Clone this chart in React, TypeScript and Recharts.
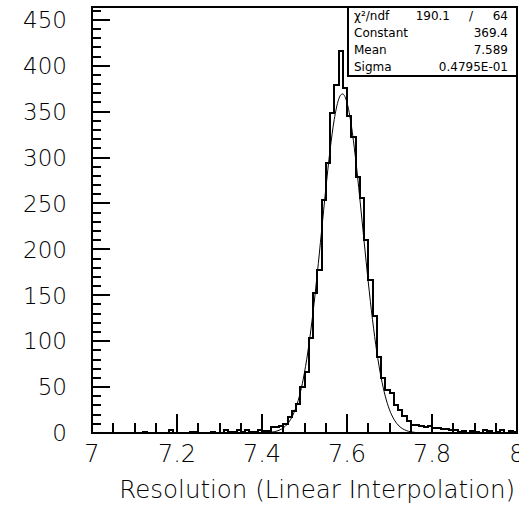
import React from 'react';
import { LineChart, Line, XAxis, YAxis, ReferenceArea } from 'recharts';

// Histogram: 100 bins of width 0.01 starting at 7.00
const binLow = 7.0;
const binWidth = 0.01;
const counts = [
  0, 0, 0, 0, 0, 0, 0, 0, 0, 0,
  0, 0, 1, 0, 0, 0, 0, 0, 3, 0,
  0, 0, 0, 1, 1, 0, 0, 0, 1, 0,
  0, 3, 1, 1, 3, 1, 3, 1, 1, 3,
  2, 2, 6, 6, 8, 10, 17, 24, 32, 50,
  66, 104, 152, 178, 254, 294, 349, 379, 416, 376,
  345, 322, 279, 256, 210, 167, 127, 83, 60, 47,
  44, 30, 25, 18, 13, 9, 9, 8, 6, 8,
  5, 5, 4, 4, 3, 3, 1, 2, 0, 2,
  1, 0, 3, 2, 0, 1, 3, 0, 2, 1,
];

// Gaussian fit curve, values read at sample positions
const fitX = [
  7.40, 7.41, 7.42, 7.43, 7.44, 7.45, 7.46, 7.47, 7.48, 7.49,
  7.50, 7.51, 7.52, 7.53, 7.54, 7.55, 7.56, 7.57, 7.58, 7.585,
  7.59, 7.595, 7.60, 7.61, 7.62, 7.63, 7.64, 7.65, 7.66, 7.67,
  7.68, 7.69, 7.70, 7.71, 7.72, 7.73, 7.74, 7.75, 7.76, 7.77, 7.78,
];
const fitY = [
  0.16, 0.35, 0.74, 1.51, 2.95, 5.5, 9.9, 17.0, 27.9, 43.8,
  66.0, 95.1, 131.2, 173.3, 219.2, 265.4, 307.7, 341.5, 362.9, 368.1,
  369.3, 366.5, 359.8, 335.6, 299.7, 256.3, 209.8, 164.5, 123.4, 88.7,
  61.0, 40.2, 25.3, 15.3, 8.8, 4.9, 2.6, 1.32, 0.64, 0.30, 0.13,
];

const xTicks = [
  7, 7.05, 7.1, 7.15, 7.2, 7.25, 7.3, 7.35, 7.4, 7.45, 7.5,
  7.55, 7.6, 7.65, 7.7, 7.75, 7.8, 7.85, 7.9, 7.95, 8,
];
const yTicks = [
  0, 10, 20, 30, 40, 50, 60, 70, 80, 90, 100, 110, 120, 130, 140, 150,
  160, 170, 180, 190, 200, 210, 220, 230, 240, 250, 260, 270, 280, 290,
  300, 310, 320, 330, 340, 350, 360, 370, 380, 390, 400, 410, 420, 430,
  440, 450, 460,
];

const xTitle = 'Resolution (Linear Interpolation)';
const statNames = ['χ²/ndf', 'Constant', 'Mean', 'Sigma'];
const statValues = ['64', '369.4', '7.589', '0.4795E-01'];
const chi2Value = '190.1';

const FONT = '"DejaVu Sans", sans-serif';

const XTick = (props: any) => {
  const { x, y, payload } = props;
  const v = payload.value as number;
  const major = Math.abs(v * 5 - Math.round(v * 5)) < 1e-6;
  return (
    <g>
      <line x1={x} y1={y} x2={x} y2={y - (major ? 19 : 10)} stroke="#000" strokeWidth={2} shapeRendering="crispEdges" />
      {major && (
        <text x={x} y={y + 29} textAnchor="middle" fontFamily={FONT} fontWeight={200} fontSize={24} fill="#000">
          {String(Number(v.toFixed(1)))}
        </text>
      )}
    </g>
  );
};

const YTick = (props: any) => {
  const { x, y, payload } = props;
  const v = payload.value as number;
  const major = v % 50 === 0;
  return (
    <g>
      <line x1={x} y1={y} x2={x + (major ? 18 : 9)} y2={y} stroke="#000" strokeWidth={2} shapeRendering="crispEdges" />
      {major && (
        <text x={x - 25} y={y} dy="0.36em" textAnchor="end" fontFamily={FONT} fontWeight={200} fontSize={23} fill="#000">
          {String(v)}
        </text>
      )}
    </g>
  );
};

export default function App() {
  const histData = counts.map((c, i) => ({ x: binLow + i * binWidth, y: c }));
  histData.push({ x: binLow + counts.length * binWidth, y: counts[counts.length - 1] });
  const fitData = fitX.map((x, i) => ({ x, y: fitY[i] }));

  return (
    <div style={{ position: 'absolute', left: 0, top: 0, width: 519, height: 505, overflow: 'hidden', background: '#fff' }}>
      <LineChart width={519} height={505} margin={{ top: 7, right: 2, bottom: 0, left: 0 }}>
        <XAxis
          type="number"
          dataKey="x"
          domain={[7, 8]}
          ticks={xTicks}
          interval={0}
          tickSize={0}
          tickMargin={0}
          height={72}
          allowDataOverflow
          axisLine={{ stroke: '#000', strokeWidth: 2, shapeRendering: 'crispEdges' }}
          tick={XTick}
        />
        <YAxis
          type="number"
          dataKey="y"
          domain={[0, 464]}
          ticks={yTicks}
          interval={0}
          tickSize={0}
          tickMargin={0}
          width={92}
          allowDataOverflow
          axisLine={{ stroke: '#000', strokeWidth: 2, shapeRendering: 'crispEdges' }}
          tick={YTick}
        />
        <ReferenceArea x1={7} x2={8} y1={0} y2={464} fill="none" fillOpacity={0} stroke="#000" strokeWidth={2} shapeRendering="crispEdges" ifOverflow="visible" />
        <Line data={fitData} dataKey="y" type="monotone" stroke="#000" strokeWidth={1} dot={false} activeDot={false} isAnimationActive={false} />
        <Line data={histData} dataKey="y" type="stepAfter" stroke="#000" strokeWidth={2} dot={false} activeDot={false} isAnimationActive={false} shapeRendering="crispEdges" />
        <g>
          <rect x={348} y={7} width={169} height={69} fill="#fff" stroke="#000" strokeWidth={2} shapeRendering="crispEdges" />
          {statNames.map((n, i) => (
            <text key={n} x={354} y={20 + i * 17} fontFamily={FONT} fontSize={12} fill="#000">{n}</text>
          ))}
          <text x={450} y={20} textAnchor="end" fontFamily={FONT} fontSize={12} fill="#000">{chi2Value}</text>
          <text x={471} y={20} textAnchor="middle" fontFamily={FONT} fontSize={12} fill="#000">/</text>
          {statValues.map((v, i) => (
            <text key={i} x={508} y={20 + i * 17} textAnchor="end" fontFamily={FONT} fontSize={12} fill="#000">{v}</text>
          ))}
          <text x={515} y={498} textAnchor="end" fontFamily={FONT} fontWeight={200} fontSize={24.5} fill="#000">{xTitle}</text>
        </g>
      </LineChart>
    </div>
  );
}
